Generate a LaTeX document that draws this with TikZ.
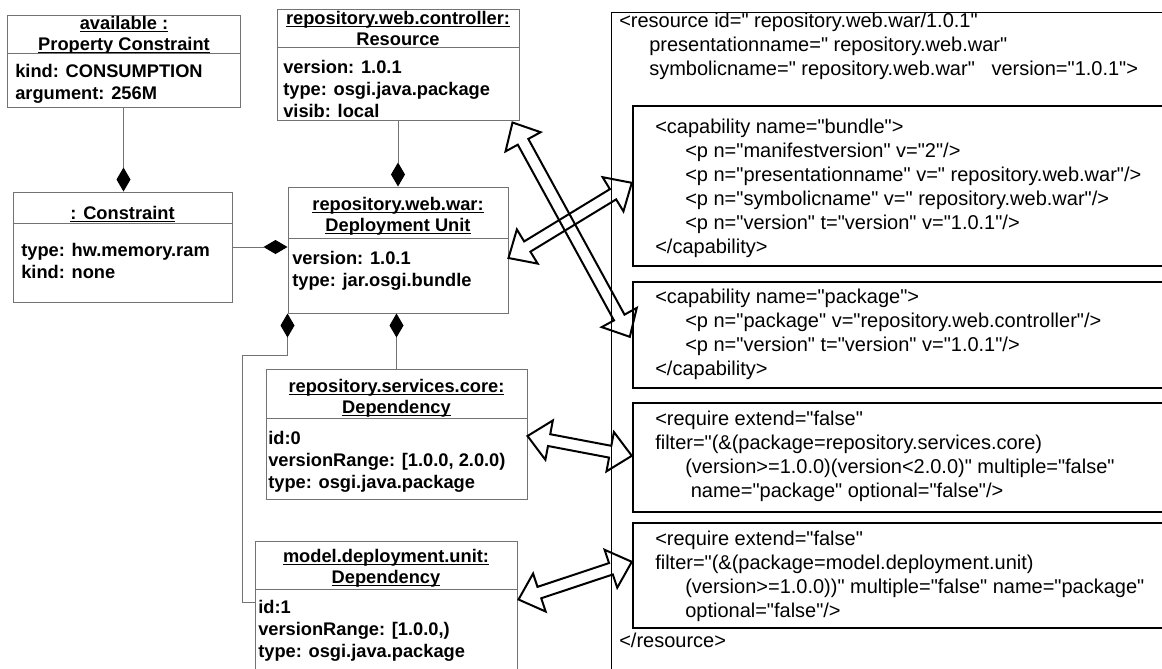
\documentclass[tikz,border=0pt]{standalone}
\usepackage{fontspec}
\setmainfont{Liberation Sans}
\newfontfamily\xmlfont{Liberation Sans}
\usetikzlibrary{arrows.meta,positioning,calc,fit}
\colorlet{umlgray}{black!55}
\tikzset{
  % UML object boxes (grey frame, bold text)
  umlframe/.style = {draw=umlgray, line width=0.75pt, inner sep=0pt},
  umltitle/.style = {font=\bfseries\fontsize{13.7}{15.75}\selectfont, align=center, inner sep=0pt},
  umlbody/.style  = {font=\bfseries\fontsize{13.7}{16.5}\selectfont, align=left, inner sep=0pt, anchor=west},
  umlline/.style  = {draw=umlgray, line width=0.75pt},
  comp/.style     = {umlline, -{Diamond[length=18pt, width=10.5pt, color=black]}},
  % XML side
  xmlouter/.style = {draw=black, line width=0.75pt, inner sep=0pt},
  xmlbox/.style   = {draw=black, line width=1.8pt, inner sep=0pt},
  xmltext/.style  = {font=\xmlfont\fontsize{15}{18}\selectfont, align=left, inner sep=0pt, anchor=west},
  blk/.style      = {draw=black, line width=1.5pt, line join=miter},
}
\newcommand{\uln}[1]{\underline{\smash{#1}}}
% hollow double block arrow between two named points
\newcommand{\blockarrow}[2]{%
  \draw[blk] (#1) -- ($(#1)!16.5pt!(#2)!15pt!90:(#2)$) -- ($(#1)!16.5pt!(#2)!4.5pt!90:(#2)$)
    -- ($(#2)!16.5pt!(#1)!4.5pt!-90:(#1)$) -- ($(#2)!16.5pt!(#1)!15pt!-90:(#1)$) -- (#2)
    -- ($(#2)!16.5pt!(#1)!15pt!90:(#1)$) -- ($(#2)!16.5pt!(#1)!4.5pt!90:(#1)$)
    -- ($(#1)!16.5pt!(#2)!4.5pt!-90:(#2)$) -- ($(#1)!16.5pt!(#2)!15pt!-90:(#2)$) -- cycle;}

\begin{document}
\begin{tikzpicture}[x=0.75pt,y=-0.75pt]
\useasboundingbox (0,0) rectangle (1162,668);
\clip (0,0) rectangle (1162,668);

% --- UML objects
\node[umlframe, fit={(7,15) (240,107)}] (avail) {};
\node[umltitle] (avail-t) at (124,41) {\uln{available :}\\\uln{Property Constraint}};
\draw[umlline] (avail.west |- 0,53) -- (avail.east |- 0,53);
\node[umlbody] (avail-b) at (15,84) {kind: CONSUMPTION\\argument: 256M};

\node[umlframe, fit={(13,192) (232,302)}] (con) {};
\node[umltitle] (con-t) at (122.5,221) {\uln{: Constraint}};
\draw[umlline] (con.west |- 0,223) -- (con.east |- 0,223);
\node[umlbody] (con-b) at (21,261) {type: hw.memory.ram\\kind: none};

\node[umlframe, fit={(277,9) (519,120)}] (res) {};
\node[umltitle] (res-t) at (398,36) {\uln{repository.web.controller:}\\\uln{Resource}};
\draw[umlline] (res.west |- 0,47) -- (res.east |- 0,47);
\node[umlbody] (res-b) at (283,89) {version: 1.0.1\\type: osgi.java.package\\visib: local};

\node[umlframe, fit={(288,187) (508,313)}] (du) {};
\node[umltitle] (du-t) at (398,222) {\uln{repository.web.war:}\\\uln{Deployment Unit}};
\draw[umlline] (du.west |- 0,238) -- (du.east |- 0,238);
\node[umlbody] (du-b) at (292,271) {version: 1.0.1\\type: jar.osgi.bundle};

\node[umlframe, fit={(266,369) (527,499)}] (svc) {};
\node[umltitle] (svc-t) at (396.5,404) {\uln{repository.services.core:}\\\uln{Dependency}};
\draw[umlline] (svc.west |- 0,418) -- (svc.east |- 0,418);
\node[umlbody] (svc-b) at (268,462) {id:0\\versionRange: [1.0.0, 2.0.0)\\type: osgi.java.package};

\node[umlframe, fit={(255,541) (517,720)}] (mdl) {};
\node[umltitle] (mdl-t) at (386,574) {\uln{model.deployment.unit:}\\\uln{Dependency}};
\draw[umlline] (mdl.west |- 0,589) -- (mdl.east |- 0,589);
\node[umlbody] (mdl-b) at (258,631) {id:1\\versionRange: [1.0.0,)\\type: osgi.java.package};

% --- compositions
\draw[comp] (avail.south) -- (avail.south |- con.north);
\draw[comp] (res.south) -- (du.north);
\draw[comp] (con.east) -- (con.east -| du.west);
\draw[comp] (svc.north) -- (svc.north |- du.south);
\coordinate (mdl-in) at ($(mdl.north west)+(0,62)$);
\coordinate (du-knee) at ($(du.south west)+(0,42)$);
\draw[comp] (mdl-in) -- ++(-12,0) |- (du-knee) -- (du.south west);

% --- OBR resource description
\node[xmlouter, fit={(611,12) (1250,760)}] (resxml) {};
\node[xmltext] (resxml-t) at (619,46)
  {<resource id=" repository.web.war/1.0.1"\\
   \hspace*{22.5pt}presentationname=" repository.web.war"\\
   \hspace*{22.5pt}symbolicname=" repository.web.war"\ \ \ version="1.0.1">};

\node[xmlbox, fit={(633,106) (1250,266)}] (capbundle) {};
\node[xmltext] (capbundle-t) at (655,188)
  {<capability name="bundle">\\
   \hspace*{22.5pt}<p n="manifestversion" v="2"/>\\
   \hspace*{22.5pt}<p n="presentationname" v=" repository.web.war"/>\\
   \hspace*{22.5pt}<p n="symbolicname" v=" repository.web.war"/>\\
   \hspace*{22.5pt}<p n="version" t="version" v="1.0.1"/>\\
   </capability>};

\node[xmlbox, fit={(633,282) (1250,388)}] (cappkg) {};
\node[xmltext] (cappkg-t) at (655,334)
  {<capability name="package">\\
   \hspace*{22.5pt}<p n="package" v="repository.web.controller"/>\\
   \hspace*{22.5pt}<p n="version" t="version" v="1.0.1"/>\\
   </capability>};

\node[xmlbox, fit={(633,403) (1250,512)}] (reqsvc) {};
\node[xmltext] (reqsvc-t) at (655,456)
  {<require extend="false"\\
   filter="(\&(package=repository.services.core)\\
   \hspace*{22.5pt}(version>=1.0.0)(version<2.0.0)" multiple="false"\\
   \hspace*{22.5pt} name="package" optional="false"/>};

\node[xmlbox, fit={(633,523) (1250,628)}] (reqmdl) {};
\node[xmltext] (reqmdl-t) at (655,576)
  {<require extend="false"\\
   filter="(\&(package=model.deployment.unit)\\
   \hspace*{22.5pt}(version>=1.0.0))" multiple="false" name="package"\\
   \hspace*{22.5pt}optional="false"/>};

\node[xmltext] (resxml-end) at (619,640) {</resource>};

% --- mappings
\coordinate (a1) at ($(res.south east)+(-7,2)$);
\coordinate (b1) at ($(cappkg.north west)+(-2,56)$);
\coordinate (a2) at ($(du.east)+(0,8)$);
\coordinate (b2) at ($(capbundle.north west)+(0,78)$);
\coordinate (a3) at ($(svc.east)+(0,2)$);
\coordinate (b3) at ($(reqsvc.north west)+(0,54)$);
\coordinate (a4) at ($(mdl.north east)+(1,59)$);
\coordinate (b4) at ($(reqmdl.north west)+(0,40)$);
\blockarrow{a1}{b1}
\blockarrow{a2}{b2}
\blockarrow{a3}{b3}
\blockarrow{a4}{b4}
\end{tikzpicture}
\end{document}
